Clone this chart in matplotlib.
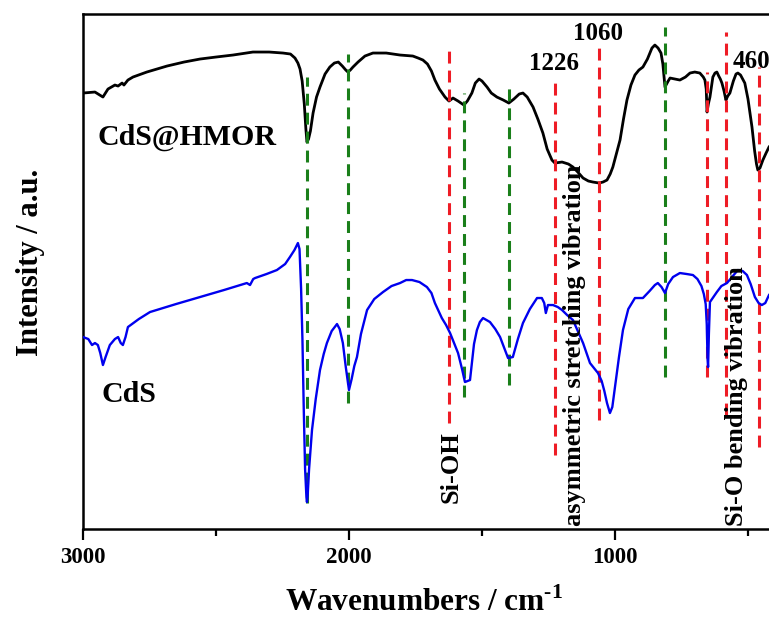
import numpy as np
import matplotlib
matplotlib.use("Agg")
import matplotlib.pyplot as plt

# ── FTIR spectra (wavenumber in cm-1, intensity in arbitrary units) ──────────
hmor_wn = [3000, 2955, 2925, 2906, 2880, 2868, 2853, 2846, 2831, 2812,
           2760, 2684, 2620, 2560, 2500, 2436, 2361, 2300, 2248, 2220,
           2203, 2192, 2184, 2176, 2168, 2162, 2158, 2152, 2145, 2135,
           2122, 2109, 2090, 2072, 2055, 2040, 2025, 2012, 2004, 1995,
           1985, 1966, 1940, 1910, 1860, 1808, 1760, 1740, 1722, 1705,
           1690, 1677, 1660, 1639, 1624, 1609, 1590, 1568, 1555, 1538,
           1525, 1511, 1500, 1481, 1465, 1444, 1420, 1399, 1380, 1360,
           1346, 1330, 1308, 1290, 1271, 1255, 1237, 1226, 1199, 1175,
           1158, 1140, 1120, 1100, 1083, 1060, 1045, 1030, 1018, 1008,
           995, 981, 968, 955, 940, 925, 910, 895, 878, 861,
           850, 846, 838, 827, 820, 812, 800, 793, 775, 756,
           735, 718, 700, 681, 668, 662, 657, 654, 649, 643,
           637, 632, 624, 617, 610, 604, 598, 590, 583, 576,
           568, 555, 545, 538, 528, 520, 512, 500, 485, 475,
           468, 463, 455, 444, 432, 421]
hmor_int = [436, 437, 432, 440, 444, 443, 446, 444, 449, 452,
            457, 463, 467, 470, 472, 474, 477, 477, 476, 475,
            471, 466, 460, 448, 425, 400, 387, 390, 398, 416,
            432, 442, 455, 462, 466, 467, 463, 459, 457, 459,
            462, 467, 473, 476, 476, 474, 473, 471, 469, 465,
            458, 449, 440, 432, 428, 431, 428, 424, 428, 436,
            446, 450, 448, 442, 436, 432, 429, 426, 430, 435,
            436, 432, 422, 410, 396, 380, 369, 366, 367, 365,
            362, 357, 351, 348, 347, 346, 347, 349, 355, 362,
            375, 389, 410, 429, 444, 454, 459, 462, 470, 481,
            484, 483, 481, 476, 465, 442, 448, 451, 450, 449,
            452, 456, 457, 456, 452, 449, 440, 417, 425, 432,
            443, 452, 456, 457, 453, 450, 446, 438, 429, 433,
            436, 448, 455, 456, 454, 450, 446, 430, 402, 378,
            365, 359, 361, 369, 376, 382]

cds_wn = [3000, 2980, 2966, 2955, 2944, 2935, 2925, 2915, 2899, 2880,
          2868, 2858, 2850, 2840, 2831, 2790, 2748, 2650, 2560, 2470,
          2384, 2372, 2360, 2353, 2310, 2271, 2240, 2222, 2205, 2192,
          2186, 2180, 2175, 2170, 2165, 2160, 2158, 2155, 2150, 2139,
          2125, 2109, 2095, 2083, 2065, 2045, 2035, 2023, 2012, 2000,
          1990, 1980, 1970, 1955, 1932, 1905, 1872, 1840, 1808, 1785,
          1763, 1735, 1707, 1690, 1677, 1651, 1635, 1620, 1605, 1590,
          1575, 1564, 1545, 1530, 1519, 1508, 1496, 1470, 1450, 1432,
          1415, 1402, 1384, 1365, 1346, 1320, 1293, 1275, 1266, 1260,
          1252, 1233, 1215, 1199, 1180, 1158, 1140, 1120, 1094, 1064,
          1050, 1040, 1030, 1019, 1010, 1000, 985, 970, 950, 925,
          895, 870, 850, 839, 825, 812, 800, 782, 756, 730,
          707, 690, 675, 666, 659, 655, 652, 650, 647, 643,
          630, 617, 600, 579, 560, 538, 520, 504, 490, 474,
          460, 448, 435, 421]
cds_int = [192, 190, 184, 186, 184, 176, 164, 172, 184, 190,
           192, 186, 184, 192, 202, 210, 217, 225, 232, 239,
           246, 244, 250, 251, 255, 259, 265, 272, 279, 286,
           280, 240, 190, 120, 60, 32, 27, 35, 60, 99,
           130, 159, 175, 186, 198, 205, 200, 186, 162, 139,
           150, 163, 172, 195, 219, 230, 237, 243, 246, 249,
           249, 247, 242, 236, 226, 211, 204, 196, 186, 176,
           160, 147, 149, 185, 199, 207, 211, 207, 200, 192,
           180, 171, 172, 190, 206, 220, 231, 231, 226, 216,
           224, 224, 222, 219, 214, 209, 198, 186, 166, 156,
           148, 138, 126, 116, 122, 142, 172, 199, 220, 231,
           231, 238, 244, 246, 242, 236, 245, 252, 256, 255,
           254, 250, 243, 235, 225, 205, 170, 162, 195, 227,
           232, 237, 243, 246, 252, 259, 258, 254, 245, 232,
           226, 224, 226, 234]

# ── band markers: position, lower and upper end of the dashed line ───────────
red_pos = [1624, 1226, 1060, 654, 583, 460]
red_lo  = [106, 74, 109, 152, 114, 82]
red_hi  = [482, 452, 486, 457, 497, 462]

green_pos = [2158, 2004, 1568, 1399, 812]
green_lo  = [26, 126, 132, 144, 152]
green_hi  = [452, 475, 436, 447, 502]

peak_labels = ["1060", "1226", "460"]
peak_x      = [1064, 1229, 557]
peak_y      = [489, 459, 461]

band_labels = ["Si-OH", "asymmetric stretching vibration", "Si-O bending vibration"]
band_x      = [1616, 1151, 542]
band_y      = [26, 3, 3]

plt.rcParams["font.family"] = "Liberation Serif"
plt.rcParams["font.weight"] = "bold"
plt.rcParams["mathtext.fontset"] = "custom"
plt.rcParams["mathtext.rm"] = "Liberation Serif:bold"
plt.rcParams["mathtext.bf"] = "Liberation Serif:bold"

fig = plt.figure(figsize=(7.69, 6.21), dpi=100)
ax = fig.add_axes([0.1079, 0.1481, 0.8921, 0.8293])

ax.plot(hmor_wn, hmor_int, color="black", lw=2.0, zorder=2,
        solid_joinstyle="round")

dash = (3.9, 2.3)
for x, lo, hi in zip(red_pos, red_lo, red_hi):
    ax.plot([x, x], [lo, hi], color="#ee1c25", lw=2.2, dashes=dash, zorder=3)
for x, lo, hi in zip(green_pos, green_lo, green_hi):
    ax.plot([x, x], [lo, hi], color="#1a7f1a", lw=2.2, dashes=dash, zorder=3)

ax.plot(cds_wn, cds_int, color="#0000ee", lw=1.7, zorder=4,
        solid_joinstyle="round")

ax.text(2947, 384, "CdS@HMOR", fontsize=21.5, ha="left", va="baseline")
ax.text(2929, 127, "CdS", fontsize=21.5, ha="left", va="baseline")

for lab, x, y in zip(peak_labels, peak_x, peak_y):
    ha = "left" if lab == "460" else "center"
    ax.text(x, y, lab, fontsize=18, ha=ha, va="baseline", zorder=5)

for lab, x, y in zip(band_labels, band_x, band_y):
    ax.text(x, y, lab, fontsize=19, rotation=90, ha="center", va="bottom", zorder=5)

ax.set_xlim(3000, 421)
ax.set_ylim(0, 515)
ax.set_xticks([3000, 2000, 1000])
ax.set_xticks([2500, 1500, 500], minor=True)
ax.set_yticks([])
ax.tick_params(axis="x", which="major", direction="out", length=8, width=1.6,
               labelsize=16.5, pad=5, top=False)
ax.tick_params(axis="x", which="minor", direction="out", length=5, width=1.6, top=False)
for lab in ax.get_xticklabels():
    lab.set_fontweight("bold")

ax.spines["right"].set_visible(False)
for side in ("left", "bottom", "top"):
    ax.spines[side].set_linewidth(1.8)

ax.set_xlabel(r"Wavenumbers / cm$^{\text{-1}}$", fontsize=22.5, fontweight="bold")
ax.xaxis.set_label_coords(0.497, -0.113)
ax.set_ylabel("Intensity / a.u.", fontsize=22, fontweight="bold")
ax.yaxis.set_label_coords(-0.056, 0.518)

fig.savefig("out.png", dpi=100)
